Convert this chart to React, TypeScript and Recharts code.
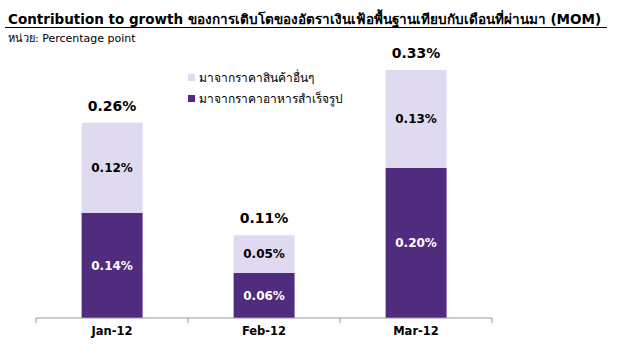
import { BarChart, Bar, XAxis, YAxis, LabelList } from "recharts";

const months = ["Jan-12", "Feb-12", "Mar-12"];
const foodValues = [0.14, 0.06, 0.2];
const otherValues = [0.12, 0.05, 0.13];
const totals = [0.26, 0.11, 0.33];

const FOOD_LABEL = "มาจากราคาอาหารสำเร็จรูป";
const OTHER_LABEL = "มาจากราคาสินค้าอื่นๆ";

const DARK = "#502c7f";
const LIGHT = "#e0daf1";
const FONT = "Tahoma, 'DejaVu Sans', 'Noto Sans', sans-serif";

const W = 617;
const H = 354;
const margin = { top: 55, right: 125, left: 36, bottom: 6 };
const bandHalf = (W - margin.left - margin.right) / months.length / 2;

const data = months.map((m, i) => ({
  month: m,
  food: foodValues[i],
  other: otherValues[i],
  total: totals[i],
}));

const pct = (v: unknown) => `${Number(v).toFixed(2)}%`;

function MonthTick(props: any) {
  const { x, y, payload, index } = props;
  return (
    <g>
      <line x1={x - bandHalf} y1={y - 8} x2={x - bandHalf} y2={y - 3} stroke="#999" />
      {index === months.length - 1 && (
        <line x1={x + bandHalf} y1={y - 8} x2={x + bandHalf} y2={y - 3} stroke="#999" />
      )}
      <text x={x} y={y + 9} textAnchor="middle" fontSize={11.5} fontWeight="bold" fill="#000" fontFamily={FONT}>
        {payload.value}
      </text>
    </g>
  );
}

function Legend() {
  const items = [
    { label: OTHER_LABEL, color: LIGHT },
    { label: FOOD_LABEL, color: DARK },
  ];
  return (
    <div style={{ position: "absolute", left: 188, top: 67, fontFamily: FONT, fontSize: 12 }}>
      {items.map((it) => (
        <div key={it.label} style={{ display: "flex", alignItems: "center", height: 21 }}>
          <span style={{ width: 7, height: 7, background: it.color, marginRight: 4, display: "inline-block" }} />
          <span>{it.label}</span>
        </div>
      ))}
    </div>
  );
}

export default function App() {
  return (
    <div style={{ position: "absolute", left: 0, top: 0, width: W, height: H, background: "#fff", fontFamily: FONT }}>
      <div style={{ position: "absolute", left: 8, top: 8, fontSize: 13.5, fontWeight: "bold", whiteSpace: "nowrap" }}>
        Contribution to growth ของการเติบโตของอัตราเงินเฟ้อพื้นฐานเทียบกับเดือนที่ผ่านมา (MOM)
      </div>
      <div style={{ position: "absolute", left: 5, top: 27, width: 602, height: 1, background: "#000" }} />
      <div style={{ position: "absolute", left: 8, top: 29, fontSize: 11, whiteSpace: "nowrap" }}>
        หน่วย: Percentage point
      </div>
      <Legend />
      <div style={{ position: "absolute", left: 0, top: 0 }}>
        <BarChart width={W} height={H} data={data} margin={margin} barCategoryGap="30%">
          <XAxis
            dataKey="month"
            height={30}
            axisLine={{ stroke: "#999" }}
            tickLine={false}
            tick={<MonthTick />}
            interval={0}
          />
          <YAxis hide domain={[0, 0.35]} />
          <Bar dataKey="food" stackId="a" fill={DARK} isAnimationActive={false}>
            <LabelList
              dataKey="food"
              position="center"
              formatter={pct}
              fill="#fff"
              fontSize={12}
              fontWeight="bold"
              fontFamily={FONT}
            />
          </Bar>
          <Bar dataKey="other" stackId="a" fill={LIGHT} isAnimationActive={false}>
            <LabelList
              dataKey="other"
              position="center"
              formatter={pct}
              fill="#000"
              fontSize={12}
              fontWeight="bold"
              fontFamily={FONT}
            />
            <LabelList
              dataKey="total"
              position="top"
              offset={12}
              formatter={pct}
              fill="#000"
              fontSize={14}
              fontWeight="bold"
              fontFamily={FONT}
            />
          </Bar>
        </BarChart>
      </div>
    </div>
  );
}
